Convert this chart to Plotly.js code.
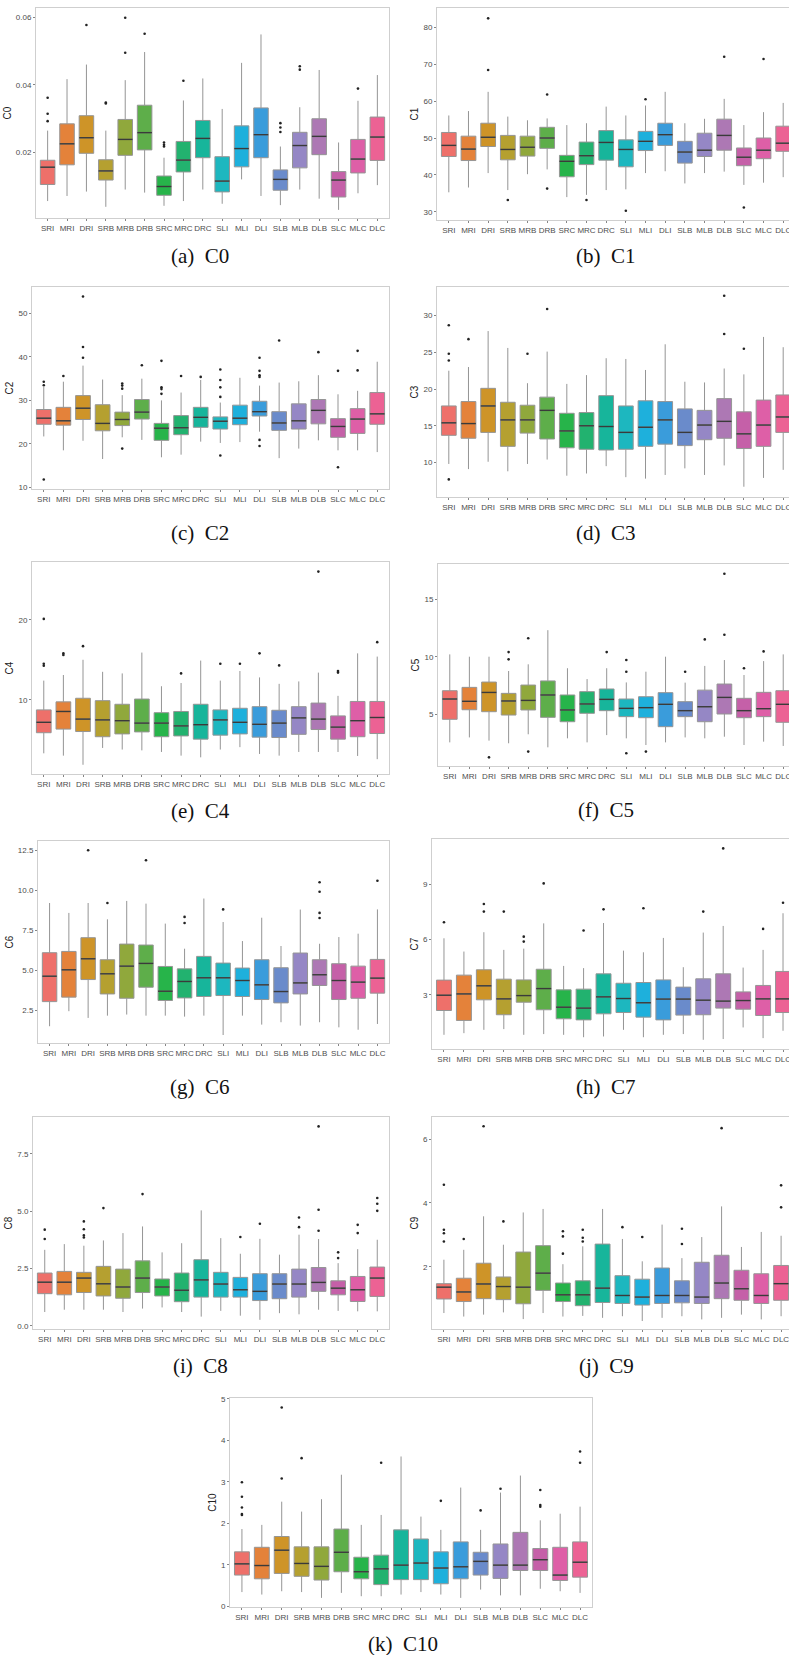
<!DOCTYPE html>
<html>
<head>
<meta charset="utf-8">
<script src="https://cdn.plot.ly/plotly-3.0.1.min.js"></script>
<style>
html,body{margin:0;padding:0;overflow:hidden;background:#fff;width:789px;height:1655px;}
#chart{width:800px;height:1655px;}
</style>
</head>
<body>
<div id="chart"></div>
<script>
const categories = ['SRI','MRI','DRI','SRB','MRB','DRB','SRC','MRC','DRC','SLI','MLI','DLI','SLB','MLB','DLB','SLC','MLC','DLC'];
const boxColors = ['#EE706A','#E4823A','#CE9428','#B5A030','#90A83C','#5EAE4A','#27B44A','#22B26F','#17B59B','#1DB7BF','#1EB0DC','#3A9CDB','#6A8BCB','#9587C5','#AD78B4','#C560A8','#DE5FA7','#EC6294'];

// C0
const C0_lo  = [0.0057,0.0072,0.0085,0.0040,0.0091,0.0082,0.0043,0.0057,0.0091,0.0049,0.0121,0.0072,0.0045,0.0091,0.0064,0.0031,0.0080,0.0104];
const C0_q1  = [0.0106,0.0164,0.0198,0.0119,0.0192,0.0208,0.0074,0.0143,0.0185,0.0084,0.0158,0.0185,0.0089,0.0155,0.0194,0.0069,0.0140,0.0177];
const C0_med = [0.0157,0.0226,0.0244,0.0146,0.0239,0.0259,0.0100,0.0178,0.0242,0.0116,0.0212,0.0253,0.0121,0.0221,0.0248,0.0119,0.0181,0.0246];
const C0_q3  = [0.01775,0.0285,0.0309,0.0179,0.0298,0.0340,0.0131,0.0233,0.0295,0.0188,0.0279,0.0332,0.0149,0.0260,0.0300,0.0144,0.0239,0.0305];
const C0_hi  = [0.0265,0.0417,0.0460,0.0265,0.0414,0.0497,0.0185,0.0354,0.0419,0.0329,0.0465,0.0549,0.0218,0.0334,0.0444,0.0230,0.0353,0.0429];
const C0_out = [[0.0362,0.0315,0.0293],[],[0.0577],[0.0348,0.0345],[0.0598,0.0495],[0.0551],[0.0230,0.0223,0.0218],[0.0412],[],[],[],[],[0.0287,0.0274,0.0261],[0.0455,0.0445],[],[],[0.0389],[]];

// C1
const C1_lo  = [35.3,36.6,40.5,35.9,40.2,41.5,34.0,34.6,35.9,36.1,40.5,41.0,37.7,40.5,40.9,37.3,37.9,39.4];
const C1_q1  = [45.0,43.9,47.7,44.1,45.1,47.2,39.5,42.8,44.0,42.2,46.6,48.0,43.2,45.0,46.7,42.5,44.4,46.4];
const C1_med = [48.0,47.0,50.2,46.9,47.5,50.0,43.7,45.2,48.8,46.9,49.1,50.9,46.2,46.7,50.7,44.8,46.7,48.6];
const C1_q3  = [51.5,50.5,54.0,50.7,50.5,52.9,45.3,48.9,52.0,49.5,51.8,54.0,49.1,51.3,55.1,47.3,50.0,53.2];
const C1_hi  = [56.1,57.3,62.5,55.8,54.8,55.3,53.5,54.0,58.5,56.1,58.8,62.5,54.0,55.2,60.6,53.5,57.0,59.5];
const C1_out = [[],[],[82.4,68.4],[33.2],[],[61.8,36.3],[],[33.2],[],[30.3],[60.5],[],[],[],[72.0],[31.2],[71.4],[]];

// C2
const C2_lo  = [21.7,18.5,20.7,16.5,21.5,20.9,16.9,17.5,20.5,20.2,20.4,22.8,16.7,18.9,20.8,18.5,18.5,18.1];
const C2_q1  = [24.5,24.3,25.6,23.0,24.2,25.7,20.8,22.1,23.8,23.4,24.4,26.4,23.1,23.4,24.6,21.5,22.4,24.5];
const C2_med = [25.9,25.3,28.2,24.7,25.6,27.3,23.6,23.7,26.1,25.2,25.9,27.4,24.8,25.3,27.7,24.0,25.7,26.9];
const C2_q3  = [27.9,28.4,31.1,29.0,27.3,30.2,24.7,26.5,28.4,26.2,28.9,29.8,27.4,29.2,30.2,25.8,28.1,31.8];
const C2_hi  = [33.1,34.3,38.0,34.8,31.2,35.0,30.0,31.8,34.7,29.5,35.2,33.4,34.1,34.4,35.8,31.4,32.2,38.9];
const C2_out = [[34.3,33.5,11.8],[35.6],[53.9,42.3,39.8],[],[33.9,33.4,32.7,18.9],[38.1],[39.1,33.0,32.6,31.5],[35.6],[35.4],[37.1,34.7,33.0,30.8,17.3],[],[39.8,36.8,35.8,35.4,20.9,19.5],[43.8],[],[41.1],[36.8,14.6],[41.4,36.9],[]];

// C3
const C3_lo  = [9.8,9.1,10.1,8.8,9.8,10.4,8.2,8.5,9.5,8.0,7.8,8.3,9.2,8.3,9.6,6.7,7.9,9.0];
const C3_q1  = [13.7,13.3,14.1,12.2,14.0,13.2,12.0,11.8,11.7,11.8,12.2,12.5,12.3,13.1,13.3,11.9,12.2,14.1];
const C3_med = [15.4,15.3,17.7,15.8,15.8,17.1,14.3,15.0,14.9,14.1,14.8,15.8,14.1,15.1,15.6,13.9,15.1,16.2];
const C3_q3  = [17.7,18.3,20.1,18.2,17.8,18.9,16.7,16.8,19.1,17.7,18.4,18.3,17.3,17.1,18.7,16.9,18.5,19.2];
const C3_hi  = [22.5,23.0,27.9,25.6,20.8,25.1,20.7,21.9,24.2,24.1,22.6,26.1,21.0,20.9,22.8,22.0,27.1,25.7];
const C3_out = [[28.7,24.8,23.9,7.7],[26.8],[],[],[24.8],[30.9],[],[],[],[],[],[],[],[],[32.7,27.5],[25.5],[],[]];

// C4
const C4_lo  = [3.33,3.04,1.9,4.0,3.8,3.7,3.5,3.04,2.83,3.8,4.1,3.25,3.04,3.5,3.5,3.5,3.0,2.6];
const C4_q1  = [5.9,6.35,6.05,5.4,5.75,6.0,5.4,5.5,5.1,5.6,5.75,5.35,5.3,5.7,6.3,5.1,5.4,5.8];
const C4_med = [7.2,8.55,7.6,7.5,7.4,7.1,7.1,6.75,6.9,7.5,7.2,6.95,7.1,7.75,7.6,6.6,7.4,7.8];
const C4_q3  = [8.75,9.75,10.2,9.9,9.45,10.1,8.4,8.55,9.45,8.75,8.95,9.15,8.7,9.15,9.6,8.0,9.8,9.8];
const C4_hi  = [12.4,13.1,15.0,13.5,13.3,15.9,11.7,12.1,14.9,12.4,13.6,12.8,12.0,12.3,13.4,10.5,15.8,15.4];
const C4_out = [[20.1,14.5,14.25],[15.8,15.6],[16.7],[],[],[],[],[13.3],[],[14.5],[14.5],[15.8],[14.3],[],[26.0],[13.6,13.4],[],[17.2]];

// C5
const C5_lo  = [2.57,3.0,2.72,2.49,3.27,2.14,2.92,2.57,3.2,2.92,2.34,2.57,3.0,2.92,3.06,2.34,2.63,2.26];
const C5_q1  = [4.57,5.4,5.23,4.94,5.38,4.74,4.36,5.09,5.32,4.8,4.71,3.93,4.8,4.36,5.03,4.71,4.8,4.31];
const C5_med = [6.33,6.13,6.9,6.16,6.21,6.68,5.38,5.9,6.3,5.52,5.58,5.87,5.32,5.66,6.47,5.32,5.49,5.87];
const C5_q3  = [7.05,7.34,7.8,6.82,7.54,7.9,6.68,6.97,7.2,6.33,6.53,6.88,6.1,7.1,7.63,6.39,6.91,7.05];
const C5_hi  = [10.2,10.0,10.0,8.76,9.34,12.3,9.0,8.06,9.0,7.77,8.7,10.0,7.75,9.2,9.71,8.41,9.62,10.2];
const C5_out = [[],[],[1.27],[10.4,9.77],[11.6,1.77],[],[],[],[10.4],[9.71,8.7,1.62],[1.77],[],[8.7],[11.5],[17.2,11.9],[9.0],[10.46],[]];

// C6
const C6_lo  = [1.49,2.43,2.01,2.15,2.22,2.15,2.15,2.09,2.15,0.94,2.15,1.59,1.74,1.53,1.74,1.42,1.27,1.63];
const C6_q1  = [3.03,3.31,4.41,3.51,3.24,3.93,3.1,3.26,3.35,3.41,3.35,3.16,2.95,3.51,4.04,3.16,3.24,3.56];
const C6_med = [4.62,5.02,5.71,4.77,5.25,5.42,3.68,4.29,4.52,4.52,4.35,4.08,3.66,4.2,4.71,4.35,4.25,4.5];
const C6_q3  = [6.09,6.17,7.03,5.65,6.63,6.57,5.23,5.08,5.86,5.44,5.13,5.65,5.15,6.07,5.65,5.4,5.25,5.67];
const C6_hi  = [9.2,8.58,9.2,8.18,9.33,9.16,7.91,6.34,9.48,8.01,6.82,8.28,6.51,8.79,6.65,7.07,7.28,8.8];
const C6_out = [[],[],[12.5],[9.2],[],[11.88],[],[8.33,7.95],[],[8.8],[],[],[],[],[10.5,9.9,8.58,8.26],[],[],[10.59]];

// C7
const C7_lo  = [0.83,0.92,1.1,1.14,0.83,0.87,0.83,0.7,0.74,1.1,0.7,0.83,0.87,0.56,0.6,1.23,0.65,1.05];
const C7_q1  = [2.15,1.61,2.73,1.92,2.6,2.19,1.7,1.64,1.97,2.04,1.79,1.64,1.9,1.92,2.28,2.22,1.88,2.04];
const C7_med = [2.98,3.05,3.49,2.78,2.96,3.34,2.33,2.28,2.89,2.8,2.57,2.77,2.77,2.71,2.66,2.69,2.78,2.78];
const C7_q3  = [3.8,4.07,4.36,3.85,3.81,4.39,3.27,3.31,4.14,3.63,3.67,3.81,3.42,3.87,4.14,3.16,3.51,4.27];
const C7_hi  = [6.07,5.35,6.4,5.44,5.51,6.88,4.57,4.45,6.9,5.4,5.31,6.09,4.5,6.38,6.74,4.48,5.44,7.43];
const C7_out = [[6.94],[],[7.93,7.52],[7.52],[6.16,5.89],[9.05],[],[6.49],[7.64],[],[7.7],[],[],[7.52],[10.95],[],[6.58],[8.0]];

// C8
const C8_lo  = [0.6,0.7,0.7,0.7,0.6,0.75,0.8,0.6,0.4,0.65,0.44,0.26,0.55,0.5,0.7,0.65,0.63,0.63];
const C8_q1  = [1.4,1.35,1.45,1.3,1.2,1.45,1.3,1.05,1.25,1.25,1.25,1.1,1.18,1.25,1.5,1.35,1.06,1.28];
const C8_med = [1.9,1.9,2.08,1.83,1.69,2.08,1.69,1.55,2.0,1.82,1.57,1.5,1.82,1.82,1.89,1.64,1.57,2.08];
const C8_q3  = [2.3,2.37,2.33,2.59,2.47,2.83,2.04,2.3,2.88,2.33,2.11,2.27,2.27,2.47,2.54,1.96,2.15,2.56];
const C8_hi  = [3.31,3.56,3.49,3.72,4.04,4.33,3.2,3.6,5.03,3.82,3.14,3.79,3.1,3.97,3.78,2.73,3.34,3.75];
const C8_out = [[4.19,3.78],[],[4.55,4.21,3.94,3.85],[5.13],[],[5.74],[],[],[],[],[3.87],[4.45],[],[4.72,4.3],[8.69,5.06,4.14],[3.2,2.95],[4.4,4.04],[5.57,5.32,5.01]];

// C9
const C9_lo  = [0.55,0.44,0.5,0.57,0.36,0.55,0.44,0.46,0.4,0.45,0.3,0.4,0.45,0.35,0.4,0.5,0.35,0.45];
const C9_q1  = [0.99,0.91,1.0,0.97,0.84,1.26,0.91,0.78,0.88,0.85,0.8,0.85,0.87,0.85,1.0,0.95,0.85,0.95];
const C9_med = [1.36,1.21,1.46,1.38,1.36,1.8,1.12,1.12,1.33,1.1,1.05,1.1,1.1,1.05,1.49,1.31,1.1,1.47];
const C9_q3  = [1.47,1.64,2.11,1.68,2.46,2.66,1.49,1.56,2.71,1.72,1.61,1.96,1.56,2.14,2.36,1.89,1.78,2.04];
const C9_hi  = [2.22,2.53,3.58,2.69,3.7,3.81,2.08,2.64,3.81,2.87,2.17,3.32,2.27,2.93,3.89,2.62,3.09,2.97];
const C9_out = [[4.57,3.16,3.05,2.79],[2.87],[6.4],[3.42],[],[],[3.11,2.95,2.41],[3.16,2.91,2.79],[],[3.24],[2.93],[],[3.19,2.71],[],[6.34],[],[],[4.55,3.86]];

// C10
const C10_lo  = [0.34,0.28,0.36,0.34,0.2,0.32,0.24,0.24,0.28,0.34,0.28,0.2,0.4,0.26,0.26,0.42,0.36,0.32];
const C10_q1  = [0.75,0.66,0.79,0.72,0.63,0.83,0.66,0.52,0.64,0.64,0.54,0.66,0.75,0.67,0.86,0.86,0.62,0.7];
const C10_med = [1.02,0.98,1.35,1.03,0.96,1.3,0.83,0.9,0.99,1.04,0.92,0.95,1.08,0.99,0.99,1.12,0.75,1.06];
const C10_q3  = [1.31,1.42,1.68,1.43,1.43,1.86,1.18,1.23,1.84,1.62,1.31,1.55,1.3,1.5,1.78,1.39,1.42,1.55];
const C10_hi  = [1.86,1.96,2.52,2.28,2.58,3.17,1.96,2.2,3.61,2.16,1.84,2.86,1.84,2.74,3.15,2.07,2.23,2.4];
const C10_out = [[2.99,2.64,2.38,2.22,2.2],[],[4.79,3.08],[3.57],[],[],[],[3.46],[],[],[2.54],[],[2.31],[2.83],[],[2.8,2.44,2.4],[],[3.73,3.46]];

const yTicks = {
  C0:[0.02,0.04,0.06], C1:[30,40,50,60,70,80], C2:[10,20,30,40,50], C3:[10,15,20,25,30],
  C4:[10,20], C5:[5,10,15], C6:[2.5,5,7.5,10,12.5], C7:[3,6,9], C8:[0,2.5,5,7.5], C9:[2,4,6], C10:[0,1,2,3,4,5]
};

// layout: frame in pixels [left,right,top,bottom], y range, tick format, caption
const W = 800, H = 1655;
const panels = [
  {n:'C0', d:[C0_lo,C0_q1,C0_med,C0_q3,C0_hi,C0_out], f:[36,389,8,218], r:[0.0007,0.0627], fmt:'.2f', cap:'(a)', cx:200, cy:256},
  {n:'C1', d:[C1_lo,C1_q1,C1_med,C1_q3,C1_hi,C1_out], f:[437,795,8,220], r:[27.8,85.2], fmt:'', cap:'(b)', cx:606, cy:256},
  {n:'C2', d:[C2_lo,C2_q1,C2_med,C2_q3,C2_hi,C2_out], f:[32,389,287,489], r:[9.6,56.1], fmt:'', cap:'(c)', cx:200, cy:533},
  {n:'C3', d:[C3_lo,C3_q1,C3_med,C3_q3,C3_hi,C3_out], f:[437,795,287,497], r:[5.3,33.9], fmt:'', cap:'(d)', cx:606, cy:533},
  {n:'C4', d:[C4_lo,C4_q1,C4_med,C4_q3,C4_hi,C4_out], f:[32,389,562,774], r:[0.75,27.2], fmt:'', cap:'(e)', cx:200, cy:811},
  {n:'C5', d:[C5_lo,C5_q1,C5_med,C5_q3,C5_hi,C5_out], f:[438,795,564,766], r:[0.52,18.04], fmt:'', cap:'(f)', cx:606, cy:810},
  {n:'C6', d:[C6_lo,C6_q1,C6_med,C6_q3,C6_hi,C6_out], f:[38,389,841,1043], r:[0.44,13.08], fmt:'.1f', cap:'(g)', cx:200, cy:1087},
  {n:'C7', d:[C7_lo,C7_q1,C7_med,C7_q3,C7_hi,C7_out], f:[432,795,839,1049], r:[0.06,11.46], fmt:'', cap:'(h)', cx:606, cy:1087},
  {n:'C8', d:[C8_lo,C8_q1,C8_med,C8_q3,C8_hi,C8_out], f:[33,389,1117,1329], r:[-0.14,9.1], fmt:'.1f', cap:'(i)', cx:200, cy:1366},
  {n:'C9', d:[C9_lo,C9_q1,C9_med,C9_q3,C9_hi,C9_out], f:[432,793,1117,1329], r:[0.05,6.69], fmt:'', cap:'(j)', cx:606, cy:1366},
  {n:'C10', d:[C10_lo,C10_q1,C10_med,C10_q3,C10_hi,C10_out], f:[230,592,1398,1607], r:[-0.02,5.02], fmt:'', cap:'(k)', cx:403, cy:1644}
];

const traces = [];
const layout = {
  width: W, height: H, margin:{l:0,r:0,t:0,b:0},
  paper_bgcolor:'#fff', plot_bgcolor:'#fff', showlegend:false,
  font:{family:'Liberation Sans, Arial, sans-serif', size:8, color:'#4d4d4d'},
  annotations: [], boxmode:'overlay'
};
const halfW = 0.375;

panels.forEach((p, k) => {
  const ax = k === 0 ? '' : String(k+1);
  const xa = 'x' + ax, ya = 'y' + ax;
  const [lo,q1,med,q3,hi,out] = p.d;
  categories.forEach((c, i) => {
    traces.push({
      type:'box', x:[i], q1:[q1[i]], median:[med[i]], q3:[q3[i]],
      lowerfence:[lo[i]], upperfence:[hi[i]],
      fillcolor: boxColors[i], line:{color:'#959595', width:1},
      whiskerwidth:0, width:0.75, boxpoints:false,
      xaxis:xa, yaxis:ya, hoverinfo:'skip', showlegend:false
    });
  });
  // medians
  const mx = [], my = [];
  categories.forEach((c, i) => { mx.push(i-halfW, i+halfW, null); my.push(med[i], med[i], null); });
  traces.push({type:'scatter', mode:'lines', x:mx, y:my, line:{color:'#3a3a3a', width:1.4},
    xaxis:xa, yaxis:ya, hoverinfo:'skip', showlegend:false});
  // outliers
  const ox = [], oy = [];
  categories.forEach((c, i) => { out[i].forEach(v => { ox.push(i); oy.push(v); }); });
  traces.push({type:'scatter', mode:'markers', x:ox, y:oy, marker:{color:'#222', size:2.6},
    xaxis:xa, yaxis:ya, hoverinfo:'skip', showlegend:false});

  const [l, r, t, b] = p.f;
  layout['xaxis' + ax] = {
    domain:[l/W, r/W], anchor: ya, range:[-0.6, 17.6],
    tickmode:'array', tickvals: categories.map((c,i)=>i), ticktext: categories,
    tickangle:0, ticks:'outside', ticklen:2, tickcolor:'#666', tickwidth:0.8,
    showgrid:false, zeroline:false, showline:true, mirror:true, linecolor:'#cfcfcf', linewidth:1,
    tickfont:{size:8, color:'#4d4d4d'}, fixedrange:true
  };
  layout['yaxis' + ax] = {
    domain:[1 - b/H, 1 - t/H], anchor: xa, range:p.r,
    tickmode:'array', tickvals: yTicks[p.n], tickformat: p.fmt,
    ticks:'outside', ticklen:2, tickcolor:'#666', tickwidth:0.8,
    showgrid:false, zeroline:false, showline:true, mirror:true, linecolor:'#cfcfcf', linewidth:1,
    tickfont:{size:8, color:'#4d4d4d'},
    title:{text:p.n, font:{size:10, color:'#222'}, standoff:2}, fixedrange:true
  };
  layout.annotations.push({
    xref:'paper', yref:'paper', x:p.cx/W, y:1 - p.cy/H, xanchor:'center', yanchor:'middle',
    text: p.cap + '\u00a0 ' + p.n, showarrow:false,
    font:{family:'Liberation Serif, Times New Roman, serif', size:21, color:'#111'}
  });
});

Plotly.newPlot('chart', traces, layout, {staticPlot:true, displayModeBar:false});
</script>
</body>
</html>
